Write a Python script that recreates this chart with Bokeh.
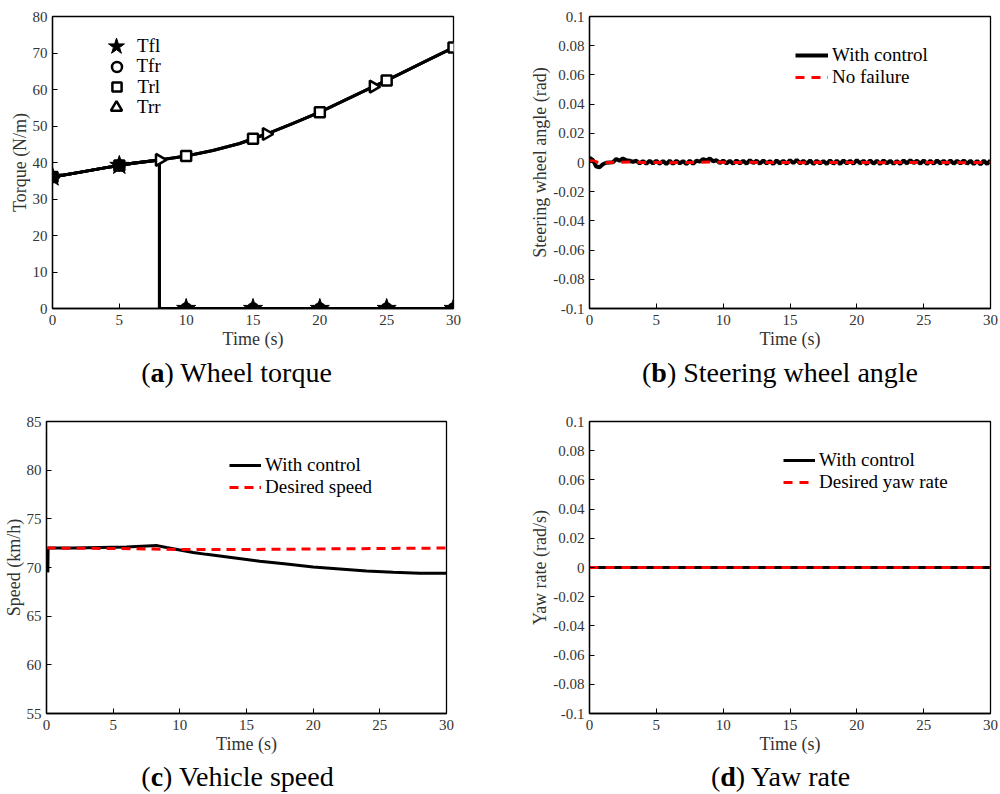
import math
from bokeh.plotting import figure
from bokeh.models import (Range1d, FixedTicker, CustomJSTickFormatter, Legend,
                          LegendItem, Div)
from bokeh.layouts import column, row
from bokeh.embed import file_html
from bokeh.resources import INLINE

# ---------------- data ----------------
x_ticks = [0, 5, 10, 15, 20, 25, 30]

# (a) wheel torque
rear_t = [0, 2, 4, 5, 6, 8, 10, 12, 14, 15, 16, 18, 20, 22, 24, 25, 26, 28, 30]
rear_torque = [36.0, 37.3, 38.6, 39.2, 39.8, 40.7, 41.8, 43.3, 45.2, 46.5, 47.8,
               50.7, 53.8, 57.3, 60.8, 62.5, 64.3, 67.9, 71.5]
front_t = [0, 2, 4, 5, 6, 8, 8, 10, 15, 20, 25, 30]
front_torque = [36.0, 37.3, 38.6, 39.2, 39.8, 40.7, 0, 0, 0, 0, 0, 0]
mark5_t = [0, 5, 10, 15, 20, 25, 30]
tfl_marks = [36.0, 39.2, 0, 0, 0, 0, 0]
tfr_marks = [36.0, 39.2, 0, 0, 0, 0, 0]
trl_marks = [36.0, 39.2, 41.8, 46.5, 53.8, 62.5, 71.5]
trr_mark_t = [0, 8, 16, 24]
trr_marks = [36.0, 40.7, 47.8, 60.8]
torque_ticks = [0, 10, 20, 30, 40, 50, 60, 70, 80]

# (b) steering wheel angle (sampled every 0.25 s)
steer_t = [i * 0.25 for i in range(121)]
steer_ctrl = [
    0.0032, 0.0018, -0.0028, -0.0032, -0.0012, -0.0002, 0.0000, 0.0002,
    0.0024, 0.0012, 0.0028, 0.0016, 0.0012, 0.0004, 0.0012, -0.0006,
    0.0010, -0.0008, 0.0012, -0.0006, 0.0012, -0.0008, 0.0010, -0.0010,
    0.0012, -0.0008, 0.0012, -0.0006, 0.0010, -0.0010, 0.0012, -0.0008,
    0.0012, 0.0006, 0.0024, 0.0014, 0.0028, 0.0008, 0.0016, -0.0004,
    0.0014, -0.0006, 0.0012, -0.0008, 0.0014, -0.0006, 0.0012, -0.0008,
    0.0016, -0.0004, 0.0012, -0.0008, 0.0014, -0.0006, 0.0010, -0.0010,
    0.0014, -0.0006, 0.0012, -0.0008, 0.0016, -0.0004, 0.0018, -0.0006,
    0.0012, -0.0008, 0.0014, -0.0010, 0.0012, -0.0006, 0.0010, -0.0010,
    0.0014, -0.0008, 0.0012, -0.0010, 0.0014, -0.0006, 0.0012, -0.0008,
    0.0016, -0.0006, 0.0012, -0.0010, 0.0014, -0.0008, 0.0012, -0.0010,
    0.0014, -0.0006, 0.0012, -0.0008, 0.0010, -0.0010, 0.0014, -0.0006,
    0.0016, -0.0004, 0.0012, -0.0008, 0.0014, -0.0010, 0.0012, -0.0008,
    0.0014, -0.0006, 0.0012, -0.0010, 0.0014, -0.0008, 0.0012, -0.0006,
    0.0014, -0.0008, 0.0012, -0.0010, 0.0010, -0.0012, 0.0012, -0.0010,
    0.0014]
nofail_t = [0, 0.3, 0.6, 1, 2, 3, 4, 5, 6, 7, 8, 9, 10, 11, 12, 13, 14, 15, 16,
            17, 18, 19, 20, 21, 22, 23, 24, 25, 26, 27, 28, 29, 30]
nofail = [0.0012, 0.0010, 0.0002, -0.0002, 0.0002, 0.0003, 0.0000, 0.0001,
          -0.0001, 0.0001, 0.0000, 0.0003, 0.0002, 0.0000, 0.0001, -0.0001,
          0.0001, 0.0000, -0.0001, 0.0001, 0.0000, -0.0001, 0.0001, 0.0000,
          -0.0001, 0.0001, 0.0000, -0.0001, 0.0001, 0.0000, -0.0001, 0.0000, 0.0001]
small_ticks = [-0.1, -0.08, -0.06, -0.04, -0.02, 0, 0.02, 0.04, 0.06, 0.08, 0.1]

# (c) vehicle speed
speed_t = [0.1, 0.12, 1, 2, 4, 6, 8.3, 9, 10, 11, 12, 14, 16, 18, 20, 22, 24,
           26, 28, 30]
speed_ctrl = [69.5, 72.0, 72.0, 72.0, 72.05, 72.1, 72.25, 72.05, 71.8, 71.55,
              71.35, 71.0, 70.65, 70.35, 70.05, 69.85, 69.65, 69.5, 69.42, 69.4]
desired_t = [0, 5, 8, 10, 15, 20, 25, 30]
desired_speed = [72.0, 71.95, 71.9, 71.85, 71.85, 71.9, 71.95, 72.0]
speed_ticks = [55, 60, 65, 70, 75, 80, 85]

# (d) yaw rate
yaw_t = [0, 30]
yaw_ctrl = [0.0, 0.0]
yaw_desired = [0.0, 0.0]

# ---------------- styling helpers ----------------
FONT = "Liberation Serif"
RED = "#ff0000"


def make_fig(width, height, mbl, mbr, mbt, mbb, yr, yticks, ylabel, small=False):
    p = figure(width=width, height=height, output_backend="svg",
               toolbar_location=None, x_range=Range1d(0, 30),
               y_range=Range1d(*yr), min_border_left=mbl, min_border_right=mbr,
               min_border_top=mbt, min_border_bottom=mbb)
    p.grid.visible = False
    p.outline_line_color = "black"
    p.outline_line_width = 1.3
    p.background_fill_color = "white"
    p.border_fill_color = "white"
    for ax in (p.xaxis[0], p.yaxis[0]):
        ax.axis_line_color = "black"
        ax.axis_line_width = 1.3
        ax.major_tick_in = 5
        ax.major_tick_out = 0
        ax.minor_tick_in = 0
        ax.minor_tick_out = 0
        ax.major_tick_line_color = "black"
        ax.major_label_text_font = FONT
        ax.major_label_text_font_size = "15px"
        ax.major_label_text_color = "#333333"
        ax.axis_label_text_font = FONT
        ax.axis_label_text_font_size = "18px"
        ax.axis_label_text_font_style = "normal"
        ax.axis_label_text_color = "#333333"
    p.xaxis.ticker = FixedTicker(ticks=x_ticks)
    p.yaxis.ticker = FixedTicker(ticks=yticks)
    p.xaxis.axis_label = "Time (s)"
    p.xaxis.major_label_standoff = 6
    p.xaxis.axis_label_standoff = 1
    p.yaxis.axis_label = ylabel
    p.yaxis.major_label_standoff = 5
    p.yaxis.axis_label_standoff = 0
    if small:
        p.yaxis.formatter = CustomJSTickFormatter(
            code="return String(Math.round(tick*100)/100);")
    return p


def caption(letter, rest, height, pad_left=0, pad_right=0):
    html = ('<div style="display:block;width:500px;box-sizing:border-box;'
            'padding-left:%dpx;padding-right:%dpx;text-align:center;'
            "font-family:'Liberation Serif';font-size:28px;line-height:36px;"
            'color:#000;white-space:nowrap">(<b>%s</b>)%s</div>'
            % (pad_left, pad_right, letter, rest))
    return Div(text=html, width=500, height=height, margin=0,
               styles={"width": "500px", "text-align": "center"})


def add_legend(p, items, loc, glyph_w, standoff, glyph_h=20, spacing=-2):
    lg = Legend(items=items, location=loc, border_line_color=None,
                background_fill_alpha=0, padding=0, margin=0, spacing=spacing,
                label_height=20, glyph_height=glyph_h, glyph_width=glyph_w,
                label_standoff=standoff, label_text_font=FONT,
                label_text_font_size="19px", label_text_color="black")
    p.add_layout(lg)


# ---------------- (a) wheel torque ----------------
pa = make_fig(500, 355, 52, 47, 16, 47, (0, 80), torque_ticks, "Torque (N/m)")
pa.line(front_t, front_torque, line_color="black", line_width=3)
pa.line(front_t, front_torque, line_color="black", line_width=3)
pa.line(rear_t, rear_torque, line_color="black", line_width=3)
pa.line(rear_t, rear_torque, line_color="black", line_width=3)
r_trr = pa.scatter(trr_mark_t, trr_marks, marker="triangle", size=12,
                   angle=-math.pi / 2, fill_color="white", line_color="black",
                   line_width=2.5)
r_trl = pa.scatter(mark5_t, trl_marks, marker="square", size=10,
                   fill_color="white", line_color="black", line_width=2.5)
r_tfr = pa.scatter(mark5_t, tfr_marks, marker="circle", size=10,
                   fill_color="white", line_color="black", line_width=2.5)
r_tfl = pa.scatter(mark5_t, tfl_marks, marker="star", size=20,
                   fill_color="black", line_color="black", line_width=1)
# one legend per marker so each legend symbol can have its own size
add_legend(pa, [LegendItem(label="Tfl", renderers=[r_tfl])], (43, 241), 42, 0,
           glyph_h=42, spacing=0)
add_legend(pa, [LegendItem(label="Tfr", renderers=[r_tfr])], (51.5, 229.5), 25, 8,
           glyph_h=25, spacing=0)
add_legend(pa, [LegendItem(label="Trl", renderers=[r_trl])], (52.5, 210), 23, 10,
           glyph_h=23, spacing=0)
add_legend(pa, [LegendItem(label="Trr", renderers=[r_trr])], (50, 187), 28, 7,
           glyph_h=28, spacing=0)
cap_a = caption("a", " Wheel torque", 45, pad_right=27)

# ---------------- (b) steering wheel angle ----------------
pb = make_fig(500, 355, 89, 10, 16, 47, (-0.1, 0.1), small_ticks,
              "Steering wheel angle (rad)", small=True)
r_b1 = pb.line(steer_t, steer_ctrl, line_color="black", line_width=4)
r_b2 = pb.line(nofail_t, nofail, line_color=RED, line_width=3,
               line_dash="9 7")
add_legend(pb, [LegendItem(label="With control", renderers=[r_b1]),
                LegendItem(label="No failure", renderers=[r_b2])],
           (206, 220), 33, 4)
cap_b = caption("b", " Steering wheel angle", 45, pad_left=60)

# ---------------- (c) vehicle speed ----------------
pc = make_fig(500, 359, 45, 54, 21, 46, (55, 85), speed_ticks, "Speed (km/h)")
r_c1 = pc.line(speed_t, speed_ctrl, line_color="black", line_width=3)
r_c2 = pc.line(desired_t, desired_speed, line_color=RED, line_width=3,
               line_dash="9 6")
add_legend(pc, [LegendItem(label="With control", renderers=[r_c1]),
                LegendItem(label="Desired speed", renderers=[r_c2])],
           (183, 215), 32, 4)
cap_c = caption("c", " Vehicle speed", 35, pad_right=25)

# ---------------- (d) yaw rate ----------------
pd = make_fig(500, 359, 89, 10, 21, 46, (-0.1, 0.1), small_ticks,
              "Yaw rate (rad/s)", small=True)
r_d1 = pd.line(yaw_t, yaw_ctrl, line_color="black", line_width=3)
r_d2 = pd.line(yaw_t, yaw_desired, line_color=RED, line_width=3,
               line_dash="9 7")
add_legend(pd, [LegendItem(label="With control", renderers=[r_d1]),
                LegendItem(label="Desired yaw rate", renderers=[r_d2])],
           (194, 220), 32, 4)
cap_d = caption("d", " Yaw rate", 35, pad_left=61)

layout = column(row(column(pa, cap_a), column(pb, cap_b)),
                row(column(pc, cap_c), column(pd, cap_d)))
open("out.html", "w").write(file_html(layout, INLINE))
